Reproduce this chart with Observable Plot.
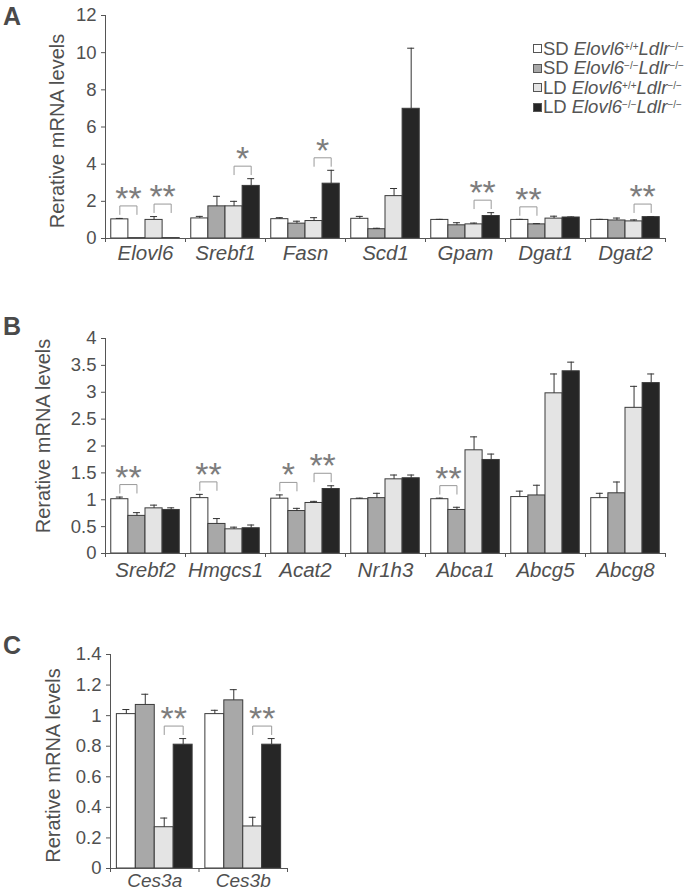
<!DOCTYPE html>
<html><head><meta charset="utf-8">
<script src="https://cdn.jsdelivr.net/npm/d3@7"></script>
<script src="https://cdn.jsdelivr.net/npm/@observablehq/plot@0.6"></script>
<style>
html,body{margin:0;padding:0;background:#fff;}
#root{position:relative;width:697px;height:891px;overflow:hidden;font-family:"Liberation Sans",Arial,sans-serif;color:#505050;}
.panel{position:absolute;left:0;}
.letter{position:absolute;font-weight:bold;font-size:25px;color:#4a4a4a;line-height:1;}
.legend{position:absolute;left:533px;top:39px;font-size:18.5px;color:#555;white-space:nowrap;}
.legend .row{height:19.5px;display:flex;align-items:center;}
.legend .sw{width:7px;height:7px;border:1px solid #555;margin-right:1px;flex:none;}
.legend i.g{margin-left:5px;}
.legend sup{font-size:10px;line-height:0;position:relative;top:-2px;}
</style>
</head><body>
<div id="root">
  <div class="letter" style="left:3px;top:4px">A</div>
  <div class="letter" style="left:3px;top:314px">B</div>
  <div class="letter" style="left:3px;top:633px">C</div>
</div>
<script>
// ---------- groups ----------
const groupDiet = ["SD", "SD", "LD", "LD"];
const groupGeno = ["+/+", "\u2212/\u2212", "+/+", "\u2212/\u2212"];
const groupColors = ["#ffffff", "#a8a8a8", "#e4e4e4", "#262626"];

// ---------- panel A ----------
const genesA = ["Elovl6", "Srebf1", "Fasn", "Scd1", "Gpam", "Dgat1", "Dgat2"];
const aSdWt    = [1.03, 1.08, 1.04, 1.06, 1.00, 1.00, 1.00];
const aSdWtErr = [0.05, 0.11, 0.08, 0.13, 0.03, 0.03, 0.03];
const aSdKo    = [0.02, 1.73, 0.80, 0.50, 0.71, 0.76, 0.97];
const aSdKoErr = [0.00, 0.54, 0.13, 0.05, 0.14, 0.04, 0.13];
const aLdWt    = [1.00, 1.73, 0.94, 2.28, 0.76, 1.07, 0.92];
const aLdWtErr = [0.18, 0.27, 0.18, 0.41, 0.07, 0.13, 0.08];
const aLdKo    = [0.02, 2.83, 2.95, 6.98, 1.21, 1.13, 1.15];
const aLdKoErr = [0.00, 0.39, 0.72, 3.26, 0.18, 0.03, 0.03];
const aTicks = [0, 2, 4, 6, 8, 10, 12];
const sigA = [
  {gene: "Elovl6", a: 0, b: 1, label: "**"},
  {gene: "Elovl6", a: 2, b: 3, label: "**"},
  {gene: "Srebf1", a: 2, b: 3, label: "*"},
  {gene: "Fasn",   a: 2, b: 3, label: "*"},
  {gene: "Gpam",   a: 2, b: 3, label: "**"},
  {gene: "Dgat1",  a: 0, b: 1, label: "**"},
  {gene: "Dgat2",  a: 2, b: 3, label: "**"}
];

// ---------- panel B ----------
const genesB = ["Srebf2", "Hmgcs1", "Acat2", "Nr1h3", "Abca1", "Abcg5", "Abcg8"];
const bSdWt    = [1.01, 1.03, 1.02, 1.01, 1.01, 1.05, 1.03];
const bSdWtErr = [0.04, 0.07, 0.07, 0.02, 0.02, 0.11, 0.09];
const bSdKo    = [0.70, 0.55, 0.79, 1.03, 0.81, 1.08, 1.12];
const bSdKoErr = [0.06, 0.10, 0.05, 0.09, 0.05, 0.19, 0.21];
const bLdWt    = [0.84, 0.45, 0.94, 1.38, 1.92, 2.98, 2.71];
const bLdWtErr = [0.06, 0.04, 0.03, 0.08, 0.25, 0.36, 0.40];
const bLdKo    = [0.81, 0.47, 1.20, 1.40, 1.74, 3.39, 3.17];
const bLdKoErr = [0.04, 0.06, 0.06, 0.06, 0.11, 0.17, 0.17];
const bTicks = [0, 0.5, 1, 1.5, 2, 2.5, 3, 3.5, 4];
const sigB = [
  {gene: "Srebf2", a: 0, b: 1, label: "**"},
  {gene: "Hmgcs1", a: 0, b: 1, label: "**"},
  {gene: "Acat2",  a: 0, b: 1, label: "*"},
  {gene: "Acat2",  a: 2, b: 3, label: "**"},
  {gene: "Abca1",  a: 0, b: 1, label: "**"}
];

// ---------- panel C ----------
const genesC = ["Ces3a", "Ces3b"];
const cSdWt    = [1.01, 1.01];
const cSdWtErr = [0.03, 0.025];
const cSdKo    = [1.07, 1.10];
const cSdKoErr = [0.07, 0.07];
const cLdWt    = [0.27, 0.275];
const cLdWtErr = [0.06, 0.06];
const cLdKo    = [0.81, 0.81];
const cLdKoErr = [0.04, 0.04];
const cTicks = [0, 0.2, 0.4, 0.6, 0.8, 1, 1.2, 1.4];
const sigC = [
  {gene: "Ces3a", a: 2, b: 3, label: "**"},
  {gene: "Ces3b", a: 2, b: 3, label: "**"}
];

const yLabel = "Rerative mRNA levels";

// ---------- drawing ----------
const BAR_W = 0.214;
const PAD = (1 - 4 * BAR_W) / 2;
const AXIS = "#555";
const TEXT = "#505050";
const FONT = "Liberation Sans, Arial, sans-serif";

function panel(cfg) {
  const {genes, series, errors, sig, yTicks, top, height, marginTop, marginBottom, marginLeft, marginRight, labelOffset, labelDy, geneDy, geneSize} = cfg;
  const yMax = yTicks[yTicks.length - 1];
  const rows = [];
  genes.forEach((g, i) => series.forEach((s, j) => rows.push({
    gene: g, i, j, value: s[i], err: errors[j][i],
    x1: i + PAD + j * BAR_W, x2: i + PAD + (j + 1) * BAR_W, c: i + PAD + (j + 0.5) * BAR_W
  })));
  const plotH = height - marginTop - marginBottom;
  const u = yMax / plotH;
  const topOf = (i, j) => series[j][i] + errors[j][i];
  const brackets = [], stars = [];
  sig.forEach((s, k) => {
    const i = genes.indexOf(s.gene);
    const ca = i + PAD + (s.a + 0.5) * BAR_W, cb = i + PAD + (s.b + 0.5) * BAR_W;
    const y0 = Math.max(topOf(i, s.a), topOf(i, s.b)) + 4 * u;
    const y1 = y0 + 8.5 * u;
    brackets.push({k, x: ca, y: y0}, {k, x: ca, y: y1}, {k, x: cb, y: y1}, {k, x: cb, y: y0});
    stars.push({x: (ca + cb) / 2, y: y1, label: s.label});
  });
  const withErr = rows.filter(d => d.err > 0);
  const svg = Plot.plot({
    width: 697, height, marginTop, marginBottom, marginLeft, marginRight,
    style: {fontFamily: FONT, color: TEXT, background: "transparent", overflow: "visible"},
    x: {type: "linear", domain: [0, genes.length], axis: null},
    y: {domain: [0, yMax], axis: null},
    marks: [
      ...[0, 1, 2, 3].map(j => Plot.rect(rows.filter(d => d.j === j), {
        x1: "x1", x2: "x2", y1: 0, y2: "value", fill: groupColors[j], stroke: "#3a3a3a", strokeWidth: 1
      })),
      Plot.ruleX(withErr, {x: "c", y1: "value", y2: d => d.value + d.err, stroke: "#333", strokeWidth: 1}),
      Plot.ruleY(withErr, {y: d => d.value + d.err, x1: "c", x2: "c", insetLeft: -3.5, insetRight: -3.5, stroke: "#333", strokeWidth: 1}),
      Plot.line(brackets, {x: "x", y: "y", z: "k", stroke: "#999", strokeWidth: 1}),
      Plot.text(stars, {x: "x", y: "y", text: "label", fontSize: 34, fill: "#7d7d7d", lineAnchor: "bottom", dy: 4, fontFamily: FONT}),
      Plot.ruleY([0], {stroke: AXIS}),
      Plot.ruleX([0], {stroke: AXIS}),
      Plot.axisX({ticks: d3.range(genes.length + 1), tickSize: 4, tickFormat: () => "", stroke: AXIS}),
      Plot.axisY({ticks: yTicks, tickSize: 4, tickPadding: 5, tickFormat: d => String(d), fontSize: 18.5, label: null, stroke: AXIS}),
      Plot.text(genes, {x: (d, i) => i + 0.5, text: d => d, frameAnchor: "bottom", lineAnchor: "top", dy: geneDy, fontSize: geneSize, fontStyle: "italic", fill: TEXT}),
      Plot.text([yLabel], {text: d => d, frameAnchor: "left", textAnchor: "middle", rotate: -90, lineAnchor: "top", dx: -labelOffset, dy: labelDy, fontSize: 20, fill: TEXT})
    ]
  });
  svg.classList.add("panel");
  svg.style.top = top + "px";
  svg.style.position = "absolute";
  svg.style.left = "0px";
  return svg;
}

const root = document.getElementById("root");
root.appendChild(panel({
  genes: genesA, series: [aSdWt, aSdKo, aLdWt, aLdKo], errors: [aSdWtErr, aSdKoErr, aLdWtErr, aLdKoErr],
  sig: sigA, yTicks: aTicks, top: 0, height: 270, marginTop: 15, marginBottom: 32, marginLeft: 105, marginRight: 32,
  labelOffset: 56, labelDy: 4, geneDy: 7, geneSize: 20.5
}));
root.appendChild(panel({
  genes: genesB, series: [bSdWt, bSdKo, bLdWt, bLdKo], errors: [bSdWtErr, bSdKoErr, bLdWtErr, bLdKoErr],
  sig: sigB, yTicks: bTicks, top: 270, height: 330, marginTop: 68, marginBottom: 47, marginLeft: 105, marginRight: 32,
  labelOffset: 70, labelDy: -10, geneDy: 9, geneSize: 20.5
}));
root.appendChild(panel({
  genes: genesC, series: [cSdWt, cSdKo, cLdWt, cLdKo], errors: [cSdWtErr, cSdKoErr, cLdWtErr, cLdKoErr],
  sig: sigC, yTicks: cTicks, top: 600, height: 291, marginTop: 54, marginBottom: 23, marginLeft: 110, marginRight: 410,
  labelOffset: 65, labelDy: 4, geneDy: 5, geneSize: 19
}));

// legend
const legend = document.createElement("div");
legend.className = "legend";
groupDiet.forEach((diet, j) => {
  const row = document.createElement("div");
  row.className = "row";
  row.innerHTML = `<span class="sw" style="background:${groupColors[j]}"></span>${diet}<i class="g">Elovl6</i><sup>${groupGeno[j]}</sup><i>Ldlr</i><sup>\u2212/\u2212</sup>`;
  legend.appendChild(row);
});
root.appendChild(legend);
</script>
</body></html>
